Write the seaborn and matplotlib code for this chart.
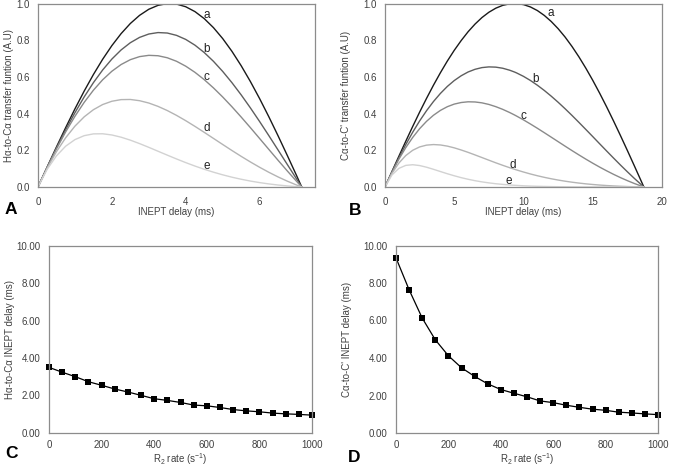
import matplotlib
matplotlib.use("Agg")
import matplotlib.pyplot as plt
import seaborn as sns

# ---------------- data ----------------
# Panel A: Hα-to-Cα transfer function vs INEPT delay (ms)
t_a = [0, 0.25, 0.5, 0.75, 1.0, 1.25, 1.5, 1.75, 2.0, 2.25, 2.5, 2.75, 3.0, 3.25, 3.5,
       3.75, 4.0, 4.25, 4.5, 4.75, 5.0, 5.25, 5.5, 5.75, 6.0, 6.25, 6.5, 6.75, 7.0, 7.14]
a_a = [0, .1097, .2181, .3239, .4258, .5225, .6129, .6959, .7705, .8358, .8910, .9354, .9686, .9900, .9995,
       .9969, .9823, .9558, .9178, .8686, .8090, .7396, .6613, .5750, .4818, .3827, .2790, .1719, .0628, 0]
b_a = [0, .1083, .2127, .3120, .4050, .4908, .5686, .6376, .6972, .7469, .7863, .8153, .8337, .8416, .8391,
       .8264, .8042, .7729, .7329, .6850, .6300, .5688, .5023, .4313, .3569, .2800, .2016, .1227, .0443, 0]
c_a = [0, .1070, .2075, .3005, .3853, .4611, .5275, .5842, .6308, .6674, .6939, .7105, .7175, .7153, .7043,
       .6852, .6584, .6249, .5852, .5402, .4907, .4375, .3815, .3236, .2644, .2049, .1456, .0875, .0312, 0]
d_a = [0, .1031, .1925, .2685, .3316, .3823, .4212, .4493, .4673, .4762, .4770, .4703, .4576, .4393, .4167,
       .3904, .3614, .3303, .2980, .2649, .2318, .1990, .1672, .1366, .1075, .0802, .0549, .0318, .0109, 0]
e_a = [0, .0968, .1699, .2226, .2582, .2797, .2895, .2901, .2835, .2714, .2553, .2365, .2161, .1949, .1737,
       .1529, .1329, .1141, .0967, .0808, .0664, .0535, .0423, .0324, .0240, .0168, .0108, .0059, .0019, 0]

# Panel B: Cα-to-C' transfer function vs INEPT delay (ms)
t_b = [0, .5, 1, 1.5, 2, 2.5, 3, 3.5, 4, 4.5, 5, 5.5, 6, 6.5, 7, 7.5, 8, 8.5, 9, 9.35, 9.5,
       10, 10.5, 11, 11.5, 12, 12.5, 13, 13.5, 14, 14.5, 15, 15.5, 16, 16.5, 17, 17.5, 18, 18.69]
a_b = [0, .0839, .1673, .2494, .3299, .4080, .4831, .5549, .6227, .6863, .7449, .7980, .8461, .8878, .9234,
       .9523, .9745, .9899, .9983, 1.0, .9997, .9940, .9812, .9616, .9351, .9021, .8628, .8174, .7660, .7093,
       .6476, .5814, .5110, .4371, .3600, .2804, .1989, .1159, 0]
b_b = [0, .0818, .1591, .2314, .2985, .3601, .4158, .4658, .5098, .5480, .5801, .6062, .6268, .6414, .6507,
       .6545, .6532, .6472, .6365, .6266, .6217, .6029, .5805, .5547, .5262, .4951, .4619, .4267, .3901, .3522,
       .3136, .2747, .2354, .1964, .1578, .1198, .0829, .0471, 0]
c_b = [0, .0798, .1514, .2147, .2701, .3178, .3579, .3910, .4174, .4376, .4518, .4604, .4643, .4634, .4586,
       .4499, .4378, .4231, .4059, .3926, .3866, .3657, .3433, .3201, .2961, .2717, .2472, .2227, .1985, .1749,
       .1519, .1297, .1084, .0883, .0691, .0512, .0346, .0192, 0]
d_b = [0, .0740, .1303, .1714, .2001, .2184, .2282, .2313, .2291, .2228, .2134, .2017, .1888, .1748, .1605,
       .1461, .1318, .1182, .1052, .0966, .0930, .0816, .0710, .0614, .0527, .0449, .0379, .0317, .0262, .0214,
       .0172, .0137, .0106, .0080, .0058, .0040, .0025, .0013, 0]
e_b = [0, .0653, .1015, .1178, .1214, .1169, .1078, .0964, .0843, .0723, .0612, .0510, .0421, .0344, .0279,
       .0224, .0178, .0142, .0111, .0093, .0087, .0067, .0051, .0039, .0030, .0022, .0016, .0012, .0009, .0006,
       .0005, .0003, .0002, .0001, .0001, .0001, .0000, .0000, 0]

curve_labels = ["a", "b", "c", "d", "e"]

# Panels C & D: optimal INEPT delay vs R2 rate
r2 = [0, 50, 100, 150, 200, 250, 300, 350, 400, 450, 500, 550, 600, 650, 700, 750, 800, 850, 900, 950, 1000]
delay_c = [3.50, 3.24, 3.00, 2.73, 2.54, 2.34, 2.18, 2.00, 1.82, 1.73, 1.62, 1.48, 1.44, 1.35, 1.24, 1.17, 1.12, 1.05, 1.01, 0.98, 0.94]
delay_d = [9.34, 7.64, 6.13, 4.97, 4.12, 3.48, 3.02, 2.62, 2.32, 2.12, 1.93, 1.71, 1.62, 1.48, 1.37, 1.27, 1.21, 1.11, 1.07, 1.02, 0.98]

# ---------------- style ----------------
sns.set_theme(style="white")
plt.rcParams["font.family"] = ["Liberation Sans", "DejaVu Sans"]
plt.rcParams["mathtext.fontset"] = "custom"
plt.rcParams["mathtext.rm"] = "Liberation Sans"
plt.rcParams["mathtext.it"] = "Liberation Sans:italic"

TXT = "#404040"
SPINE = "#8c8c8c"
curve_colors = ["#1a1a1a", "#5e5e5e", "#8a8a8a", "#b4b4b4", "#d2d2d2"]

W, H = 674, 466
fig = plt.figure(figsize=(W / 100, H / 100), dpi=100)


def add_axes(l, t, r, b):
    return fig.add_axes([l / W, 1 - b / H, (r - l) / W, (b - t) / H])


def style(ax, xpad, ypad):
    for s in ax.spines.values():
        s.set_color(SPINE)
        s.set_linewidth(0.9)
    ax.tick_params(axis="both", length=0, labelsize=7, colors=TXT)
    ax.tick_params(axis="x", pad=xpad)
    ax.tick_params(axis="y", pad=ypad)
    ax.grid(False)


def place_labels(ax, xlabel, ylabel, xl_y, yl_x):
    ax.set_xlabel(xlabel, fontsize=7, color=TXT)
    ax.set_ylabel(ylabel, fontsize=7, color=TXT)
    bb = ax.get_position()
    ax.xaxis.set_label_coords((bb.x0 + bb.x1) / 2, 1 - xl_y / H, transform=fig.transFigure)
    ax.xaxis.label.set_va("center")
    ax.yaxis.set_label_coords(yl_x / W, (bb.y0 + bb.y1) / 2, transform=fig.transFigure)
    ax.yaxis.label.set_va("center")


# Panel A
axA = add_axes(38, 3.5, 315, 187)
for y, c in zip([a_a, b_a, c_a, d_a, e_a], curve_colors):
    sns.lineplot(x=t_a, y=y, ax=axA, color=c, linewidth=1.0, sort=False)
axA.set_xlim(0, 7.5)
axA.set_ylim(0, 1.0)
axA.set_xticks([0, 2, 4, 6])
axA.set_yticks([0, 0.2, 0.4, 0.6, 0.8, 1.0])
axA.set_yticklabels(["0.0", "0.2", "0.4", "0.6", "0.8", "1.0"])
style(axA, 7, 6)
place_labels(axA, "INEPT delay (ms)", "Hα-to-Cα transfer funtion (A.U)", 212, 9)
for lab, (x, y) in zip(curve_labels, [(4.56, 0.937), (4.56, 0.754), (4.56, 0.598), (4.56, 0.323), (4.56, 0.117)]):
    axA.text(x, y, lab, fontsize=8.5, color="#222222", ha="center", va="center")

# Panel B
axB = add_axes(385, 3.5, 662, 187)
for y, c in zip([a_b, b_b, c_b, d_b, e_b], curve_colors):
    sns.lineplot(x=t_b, y=y, ax=axB, color=c, linewidth=1.0, sort=False)
axB.set_xlim(0, 20)
axB.set_ylim(0, 1.0)
axB.set_xticks([0, 5, 10, 15, 20])
axB.set_yticks([0, 0.2, 0.4, 0.6, 0.8, 1.0])
axB.set_yticklabels(["0.0", "0.2", "0.4", "0.6", "0.8", "1.0"])
style(axB, 7, 6)
place_labels(axB, "INEPT delay (ms)", "Cα-to-C' transfer funtion (A.U)", 212, 346)
for lab, (x, y) in zip(curve_labels, [(11.94, 0.947), (10.9, 0.589), (10.0, 0.387), (9.22, 0.121), (8.93, 0.033)]):
    axB.text(x, y, lab, fontsize=8.5, color="#222222", ha="center", va="center")

# Panel C
axC = add_axes(49, 246, 312, 432.7)
sns.lineplot(x=r2, y=delay_c, ax=axC, color="black", linewidth=0.9, marker="s",
             markersize=4.5, markeredgewidth=0, clip_on=False)
axC.set_xlim(0, 1000)
axC.set_ylim(0, 10)
axC.set_xticks(range(0, 1001, 200))
axC.set_yticks(range(0, 11, 2))
axC.set_yticklabels([f"{v:.2f}" for v in range(0, 11, 2)])
style(axC, 5, 6)
place_labels(axC, "R$_2$ rate (s$^{-1}$)", "Hα-to-Cα INEPT delay (ms)", 459, 10)

# Panel D
axD = add_axes(396, 245.5, 658, 433)
sns.lineplot(x=r2, y=delay_d, ax=axD, color="black", linewidth=0.9, marker="s",
             markersize=4.5, markeredgewidth=0, clip_on=False)
axD.set_xlim(0, 1000)
axD.set_ylim(0, 10)
axD.set_xticks(range(0, 1001, 200))
axD.set_yticks(range(0, 11, 2))
axD.set_yticklabels([f"{v:.2f}" for v in range(0, 11, 2)])
style(axD, 5, 6)
place_labels(axD, "R$_2$ rate (s$^{-1}$)", "Cα-to-C' INEPT delay (ms)", 459, 347)

# Panel letters
for lab, (x, y) in zip(["A", "B", "C", "D"], [(5, 210), (349, 211), (5, 453), (348, 457)]):
    fig.text(x / W, 1 - y / H, lab, fontsize=12.5, fontweight="bold", color="black",
             ha="left", va="center")

fig.savefig("out.png", dpi=100)
